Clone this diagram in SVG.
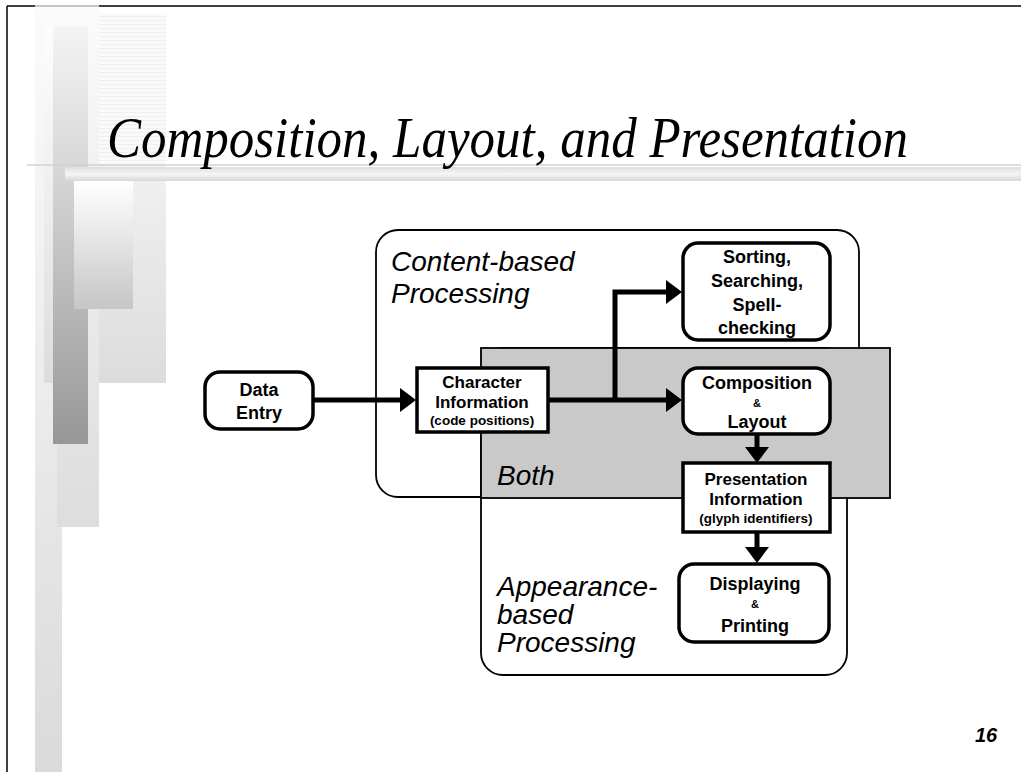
<svg xmlns="http://www.w3.org/2000/svg" width="1021" height="772" viewBox="0 0 1021 772">
  <style>
    .frame { stroke: #000; stroke-width: 1.5; fill: none; }
    .region { fill: #fff; stroke: #000; stroke-width: 1.8; }
    .both { fill: #c9c9c9; stroke: #000; stroke-width: 1.8; }
    .node { fill: #fff; stroke: #000; stroke-width: 3.5; }
    .lbl { font-family: "Liberation Sans", Arial, sans-serif; font-weight: bold; text-anchor: middle; fill: #000; }
    .big { font-size: 18px; }
    .mid { font-size: 17px; }
    .sml { font-size: 13.5px; }
    .amp { font-size: 11px; }
    .area { font-family: "Liberation Sans", Arial, sans-serif; font-style: italic; font-size: 28px; fill: #000; }
    .conn { fill: none; stroke: #000; stroke-width: 5; stroke-linejoin: miter; }
  </style>
  <defs>
    <marker id="head" viewBox="0 0 16 24" refX="0" refY="12" markerWidth="16" markerHeight="24" markerUnits="userSpaceOnUse" orient="auto">
      <path d="M0,0 L16,12 L0,24 z" fill="#000"/>
    </marker>
    <linearGradient id="gTall" x1="0" y1="0" x2="0" y2="1">
      <stop offset="0" stop-color="#fbfbfb"/>
      <stop offset="0.5" stop-color="#ececec"/>
      <stop offset="1" stop-color="#dadada"/>
    </linearGradient>
    <linearGradient id="gMid" x1="0" y1="0" x2="0" y2="1">
      <stop offset="0" stop-color="#fbfbfb"/>
      <stop offset="1" stop-color="#dddddd"/>
    </linearGradient>
    <linearGradient id="gBox" x1="0" y1="0" x2="0" y2="1">
      <stop offset="0" stop-color="#fdfdfd"/>
      <stop offset="0.45" stop-color="#efefef"/>
      <stop offset="1" stop-color="#dcdcdc"/>
    </linearGradient>
    <linearGradient id="gDark" x1="0" y1="0" x2="0" y2="1">
      <stop offset="0" stop-color="#f4f4f4"/>
      <stop offset="0.35" stop-color="#d6d6d6"/>
      <stop offset="1" stop-color="#979797"/>
    </linearGradient>
    <linearGradient id="gPanel" x1="0" y1="0" x2="0" y2="1">
      <stop offset="0" stop-color="#ffffff"/>
      <stop offset="1" stop-color="#c6c6c6"/>
    </linearGradient>
    <linearGradient id="gRule" x1="0" y1="0" x2="0" y2="1">
      <stop offset="0" stop-color="#dedede"/>
      <stop offset="0.5" stop-color="#f6f6f6"/>
      <stop offset="1" stop-color="#d6d6d6"/>
    </linearGradient>
    <pattern id="stripes" width="4" height="4" patternUnits="userSpaceOnUse">
      <rect width="4" height="4" fill="#fafafa"/>
      <rect width="4" height="1" fill="#efefef"/>
    </pattern>
  </defs>

  <rect width="1021" height="772" fill="#fff"/>

  <!-- decorative side bars of the slide template -->
  <g id="template">
    <rect x="35" y="6" width="27" height="766" fill="url(#gTall)"/>
    <rect x="44" y="27" width="122" height="356" fill="url(#gBox)"/>
    <rect x="93" y="13" width="73" height="152" fill="url(#stripes)"/>
    <rect x="57" y="6" width="42" height="521" fill="url(#gMid)"/>
    <rect x="53" y="27" width="35" height="417" fill="url(#gDark)"/>
    <rect x="74" y="181" width="59" height="128" fill="url(#gPanel)"/>
    <line x1="27" y1="165" x2="1021" y2="165" stroke="#d2d2d2" stroke-width="1.5"/>
    <rect x="65" y="167" width="956" height="14" fill="url(#gRule)"/>
    <line class="frame" x1="7" y1="6" x2="7" y2="772"/>
    <line class="frame" x1="7" y1="6" x2="35" y2="6"/>
    <line x1="35" y1="6" x2="99" y2="6" stroke="#b4b4b4" stroke-width="1.5"/>
    <line class="frame" x1="99" y1="6" x2="1021" y2="6"/>
  </g>

  <text id="title" x="107" y="157" font-family="'Liberation Serif', 'Times New Roman', serif" font-style="italic" font-size="57" textLength="801" lengthAdjust="spacingAndGlyphs">Composition, Layout, and Presentation</text>

  <!-- processing areas -->
  <g id="content-area">
    <rect class="region" x="376" y="230" width="483" height="267" rx="22"/>
    <text class="area" x="391" y="271">Content-based</text>
    <text class="area" x="391" y="303">Processing</text>
  </g>
  <g id="appearance-area">
    <rect class="region" x="481" y="348" width="366" height="327" rx="22"/>
    <text class="area" x="497" y="596">Appearance-</text>
    <text class="area" x="497" y="624">based</text>
    <text class="area" x="497" y="652">Processing</text>
  </g>
  <g id="both-area">
    <rect class="both" x="481" y="348" width="409" height="150"/>
    <text class="area" x="497" y="485" font-size="32">Both</text>
  </g>

  <!-- connectors -->
  <g id="connectors">
    <path class="conn" d="M312,400 H400" marker-end="url(#head)"/>
    <path class="conn" d="M548,400 H666" marker-end="url(#head)"/>
    <path class="conn" d="M615,400 V292 H666" marker-end="url(#head)"/>
    <path class="conn" d="M757,434 V447" marker-end="url(#head)"/>
    <path class="conn" d="M757,532 V547" marker-end="url(#head)"/>
  </g>

  <!-- nodes -->
  <g id="data-entry">
    <rect class="node" x="205" y="372" width="108" height="57" rx="15"/>
    <text class="lbl big" x="259" y="396">Data</text>
    <text class="lbl big" x="259" y="419">Entry</text>
  </g>
  <g id="character-information">
    <rect class="node" x="417" y="368" width="131" height="64"/>
    <text class="lbl mid" x="482" y="388">Character</text>
    <text class="lbl mid" x="482" y="408">Information</text>
    <text class="lbl sml" x="482" y="425">(code positions)</text>
  </g>
  <g id="sorting">
    <rect class="node" x="683" y="243" width="147" height="97" rx="15"/>
    <text class="lbl big" x="757" y="263">Sorting,</text>
    <text class="lbl big" x="757" y="287">Searching,</text>
    <text class="lbl big" x="757" y="311">Spell-</text>
    <text class="lbl big" x="757" y="334">checking</text>
  </g>
  <g id="composition">
    <rect class="node" x="683" y="368" width="147" height="66" rx="15"/>
    <text class="lbl big" x="757" y="389">Composition</text>
    <text class="lbl amp" x="757" y="407">&amp;</text>
    <text class="lbl big" x="757" y="428">Layout</text>
  </g>
  <g id="presentation-information">
    <rect class="node" x="683" y="463" width="147" height="69"/>
    <text class="lbl mid" x="756" y="485">Presentation</text>
    <text class="lbl mid" x="756" y="505">Information</text>
    <text class="lbl sml" x="756" y="523">(glyph identifiers)</text>
  </g>
  <g id="displaying">
    <rect class="node" x="679" y="564" width="150" height="78" rx="15"/>
    <text class="lbl big" x="755" y="590">Displaying</text>
    <text class="lbl amp" x="755" y="608">&amp;</text>
    <text class="lbl big" x="755" y="632">Printing</text>
  </g>

  <text id="page-number" x="975" y="742" font-family="'Liberation Sans', Arial, sans-serif" font-weight="bold" font-style="italic" font-size="20">16</text>
</svg>
